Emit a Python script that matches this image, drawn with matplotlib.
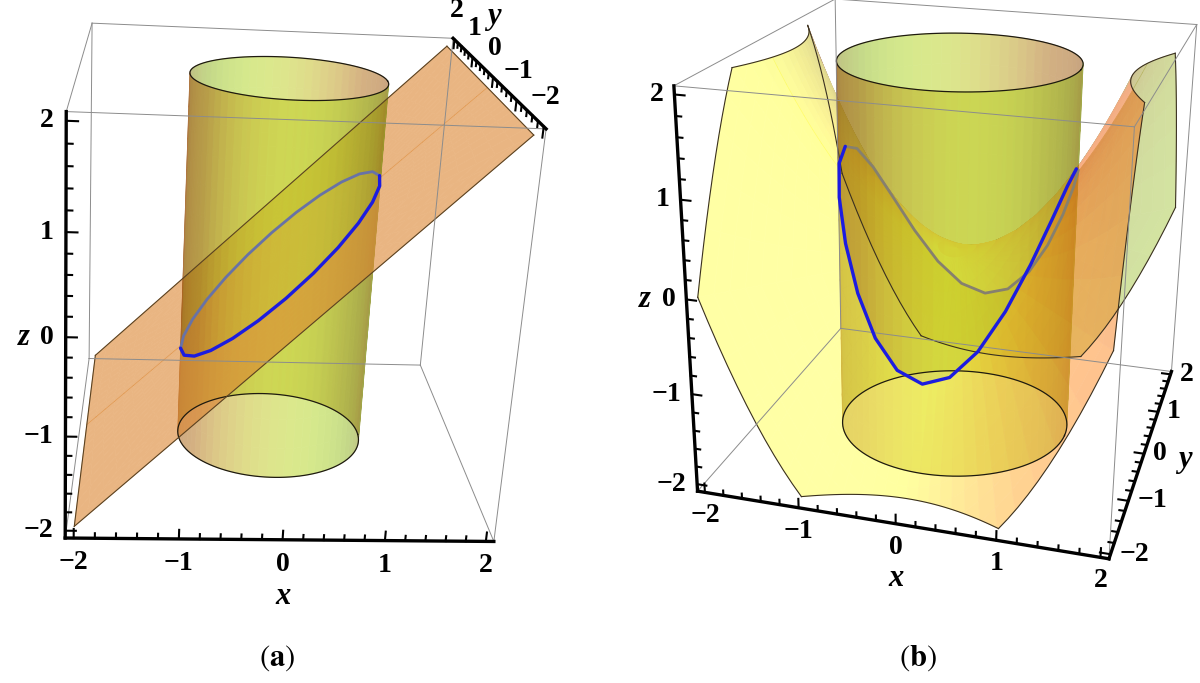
import numpy as np
import matplotlib
matplotlib.use("Agg")
import matplotlib.pyplot as plt
from mpl_toolkits.mplot3d import proj3d
from mpl_toolkits.mplot3d.art3d import Poly3DCollection

plt.rcParams['mathtext.fontset'] = 'stix'

W, H = 1200, 683

# ---- данные графика ----
AXIS_LIM = 2.0
PAD = 0.08                      # отступ рамки, как у Mathematica
BOX = AXIS_LIM + PAD
MAJOR = [-2, -1, 0, 1, 2]
MINOR = [-1.8, -1.6, -1.4, -1.2, -0.8, -0.6, -0.4, -0.2,
         0.2, 0.4, 0.6, 0.8, 1.2, 1.4, 1.6, 1.8]
TICK_TEXT = ['\u22122', '\u22121', '0', '1', '2']

CYL_R_A = 1.0                   # цилиндр на рисунке (a)
CYL_R_B = 1.22                  # цилиндр на рисунке (b)
CYL_Z = (-2.0, 2.0)
CLIP_Z = (-2.0, 2.0)
SADDLE_K = 2.0 / 3.0


def plane(x, y):
    return x


def plane_normal(x, y):
    return (-1.0, 0.0, 1.0)


def saddle(x, y):
    return SADDLE_K * (x ** 2 - y ** 2)


def saddle_normal(x, y):
    return (-2 * SADDLE_K * x, 2 * SADDLE_K * y, 1.0)


# углы рамки (знаки) и где они стоят на картинке, пиксели
CORNER_SIGNS = np.array([[-1, -1, -1], [1, -1, -1], [1, -1, 1], [-1, -1, 1],
                         [-1, 1, -1], [1, 1, -1], [1, 1, 1], [-1, 1, 1]])
TARGET_A = np.array([[62, 532], [500, 535], [545, 115], [62, 95],
                     [90, 370], [423, 373], [452, 50], [92, 35]], float)
TARGET_B = np.array([[691, 486], [1117, 548], [1148, 110], [672, 77],
                     [834, 337], [1171, 377], [1194, 37], [832, 14]], float)

# освещение в духе Mathematica
AMBIENT = np.array([0.4, 0.2, 0.0])
LIGHTS = [((0.0, 0.18, 0.5), (1.5, -0.5, 1.5)),
          ((0.18, 0.5, 0.18), (1.5, 1.5, 2.5)),
          ((0.5, 0.18, 0.0), (-0.5, 1.5, 1.5)),
          ((0.0, 0.18, 0.5), (-0.5, -0.5, 1.5))]

CYL_BASE, CYL_ALPHA = (1.06, 0.93, 0.13), 0.52
PLANE_BASE, PLANE_ALPHA = (1.0, 1.0, 1.0), 0.6
SADDLE_BASE, SADDLE_ALPHA = (1.35, 1.08, 0.3), 0.5

MAJOR_LEN = 0.10
MINOR_LEN = 0.055
TICK_FONT = dict(fontsize=20, fontweight='bold', family='Liberation Serif')
NAME_FONT = dict(fontsize=22, fontweight='bold', style='italic', family='Liberation Serif')

fig = plt.figure(figsize=(W / 100, H / 100), dpi=100)
pending_labels = []


class Fade:
    """agg-фильтр: один общий уровень прозрачности для целого слоя"""

    def __init__(self, alpha):
        # при выводе картинки слоя альфа применяется ещё раз, отсюда корень
        self.alpha = np.sqrt(alpha)

    def __call__(self, img, dpi):
        out = img.copy()
        out[..., 3] *= self.alpha
        return out, 0, 0


def view_axes(elev, azim, roll):
    e, a, r = np.radians([elev, azim, roll])
    w = np.array([np.cos(e) * np.cos(a), np.cos(e) * np.sin(a), np.sin(e)])
    u = np.array([-np.sin(a), np.cos(a), 0.0])
    v = np.cross(w, u)
    u, v = np.cos(r) * u - np.sin(r) * v, np.sin(r) * u + np.cos(r) * v
    return u, v, w


def shade(normals, view, base):
    u, v, w = view
    n = np.asarray(normals, float).reshape(-1, 3)
    ns = np.column_stack([n @ u, n @ v, n @ w])
    ns[ns[:, 2] < 0] *= -1          # двусторонний свет
    ns /= np.linalg.norm(ns, axis=1, keepdims=True)
    light = np.tile(AMBIENT, (len(ns), 1))
    for col, d in LIGHTS:
        d = np.array(d) / np.linalg.norm(d)
        light += np.clip(ns @ d, 0, None)[:, None] * np.array(col)
    return np.clip(light * np.array(base), 0, 1)


def clip_z(pts, lo, hi):
    for bound, sgn in ((lo, 1.0), (hi, -1.0)):
        out = []
        for i in range(len(pts)):
            p, q = pts[i], pts[(i + 1) % len(pts)]
            fp, fq = sgn * (p[2] - bound), sgn * (q[2] - bound)
            if fp >= 0:
                out.append(p)
            if fp * fq < 0:
                out.append(p + fp / (fp - fq) * (q - p))
        pts = out
        if len(pts) < 3:
            return []
    return pts


def cylinder_layers(R, eye, nt=72, nz=12):
    t = np.linspace(0, 2 * np.pi, nt + 1)
    z = np.linspace(CYL_Z[0], CYL_Z[1], nz + 1)
    front, back = ([], []), ([], [])
    for i in range(nt):
        c0, s0 = R * np.cos(t[i]), R * np.sin(t[i])
        c1, s1 = R * np.cos(t[i + 1]), R * np.sin(t[i + 1])
        tm = 0.5 * (t[i] + t[i + 1])
        nrm = np.array([np.cos(tm), np.sin(tm), 0.0])
        for j in range(nz):
            quad = [(c0, s0, z[j]), (c1, s1, z[j]), (c1, s1, z[j + 1]), (c0, s0, z[j + 1])]
            ctr = np.mean(quad, axis=0)
            dst = front if nrm @ (eye - ctr) > 0 else back
            dst[0].append(quad)
            dst[1].append(nrm)
    return front, back


def surface_layers(R, fz, fn, toward, clip, nt=96, nr=6, ns=10):
    """поверхность над квадратом: внутри цилиндра, снаружи спереди, снаружи сзади"""
    th = np.linspace(0, 2 * np.pi, nt + 1)
    rmax = AXIS_LIM / np.maximum(np.abs(np.cos(th)), np.abs(np.sin(th)))
    inside, front, back = ([], []), ([], []), ([], [])

    def add(dst, quad2d):
        pts = [np.array([x, y, fz(x, y)]) for x, y in quad2d]
        if clip:
            pts = clip_z(pts, *CLIP_Z)
            if not pts:
                return
        xm, ym = np.mean(quad2d, axis=0)
        dst[0].append([tuple(p) for p in pts])
        dst[1].append(fn(xm, ym))

    for i in range(nt):
        ca, sa = np.cos(th[i]), np.sin(th[i])
        cb, sb = np.cos(th[i + 1]), np.sin(th[i + 1])
        for j in range(nr):
            r0, r1 = R * j / nr, R * (j + 1) / nr
            add(inside, [(r0 * ca, r0 * sa), (r1 * ca, r1 * sa), (r1 * cb, r1 * sb), (r0 * cb, r0 * sb)])
        for j in range(ns):
            s0, s1 = j / ns, (j + 1) / ns
            a0, a1 = R + s0 * (rmax[i] - R), R + s1 * (rmax[i] - R)
            b0, b1 = R + s0 * (rmax[i + 1] - R), R + s1 * (rmax[i + 1] - R)
            quad = [(a0 * ca, a0 * sa), (a1 * ca, a1 * sa), (b1 * cb, b1 * sb), (b0 * cb, b0 * sb)]
            xm, ym = np.mean(quad, axis=0)
            add(front if xm * toward[0] + ym * toward[1] > 0 else back, quad)
    return inside, front, back


def add_layer(ax, layer, view, base, alpha, zo):
    polys, normals = layer
    if not polys:
        return
    cols = shade(normals, view, base)
    coll = Poly3DCollection(polys, facecolors=cols, edgecolors=cols,
                            linewidths=0.5, zorder=zo)
    coll.set_agg_filter(Fade(alpha))
    ax.add_collection3d(coll)


def setup_axes(rect, elev, azim, roll, focal):
    ax = fig.add_axes(rect, projection='3d', proj_type='persp',
                      focal_length=focal, computed_zorder=False)
    ax.set_xlim(-BOX, BOX)
    ax.set_ylim(-BOX, BOX)
    ax.set_zlim(-BOX, BOX)
    ax.set_box_aspect((1, 1, 1))
    ax.view_init(elev=elev, azim=azim, roll=roll)
    ax.set_axis_off()
    return ax


def eye_position(elev, azim, focal):
    # камера mpl: расстояние 10*focal в нормированных единицах рамки (~1.1 на ребро)
    w = view_axes(elev, azim, 0)[2]
    return w * 10 * focal * (2 * BOX) / 1.1


def draw_surfaces(ax, R, fz, fn, base, alpha, clip, elev, azim, roll, focal):
    view = view_axes(elev, azim, roll)
    eye = eye_position(elev, azim, focal)
    toward = (np.cos(np.radians(azim)), np.sin(np.radians(azim)))
    cyl_front, cyl_back = cylinder_layers(R, eye)
    s_in, s_front, s_back = surface_layers(R, fz, fn, toward, clip)
    add_layer(ax, s_back, view, base, alpha, 1.0)
    add_layer(ax, cyl_back, view, CYL_BASE, CYL_ALPHA, 1.1)
    add_layer(ax, s_in, view, base, alpha, 1.2)
    add_layer(ax, cyl_front, view, CYL_BASE, CYL_ALPHA, 1.3)
    add_layer(ax, s_front, view, base, alpha, 1.4)


def draw_box(ax):
    c = CORNER_SIGNS * BOX
    for i in range(8):
        for j in range(i + 1, 8):
            if np.sum(CORNER_SIGNS[i] != CORNER_SIGNS[j]) == 1:
                seg = np.array([c[i], c[j]])
                ax.plot(seg[:, 0], seg[:, 1], seg[:, 2], color='#8c8c8c', lw=0.7, zorder=3)


def draw_axis(ax, k, fixed, tdir, off, ha, va, name, name_pos, name_off, name_ha='center', name_va='center'):
    p0 = np.array(fixed, float)
    p1 = p0.copy()
    p0[k], p1[k] = -BOX, BOX
    seg = np.array([p0, p1])
    ax.plot(seg[:, 0], seg[:, 1], seg[:, 2], color='black', lw=2.4, zorder=5,
            solid_capstyle='projecting')
    ticks = [(m, MAJOR_LEN) for m in MAJOR] + [(m, MINOR_LEN) for m in MINOR]
    for val, ln in ticks:
        a = p0.copy()
        a[k] = val
        b = a + ln * np.array(tdir, float)
        ax.plot([a[0], b[0]], [a[1], b[1]], [a[2], b[2]], color='black', lw=1.5, zorder=5)
    for val, txt in zip(MAJOR, TICK_TEXT):
        a = p0.copy()
        a[k] = val
        pending_labels.append((ax, a, txt, off, dict(ha=ha, va=va, **TICK_FONT)))
    a = p0.copy()
    a[k] = name_pos
    pending_labels.append((ax, a, name, name_off, dict(ha=name_ha, va=name_va, **NAME_FONT)))


def draw_curve(ax, R, fz, back_color, n=13):
    tb = np.linspace(0, np.pi, n)
    tf = np.linspace(np.pi, 2 * np.pi, n)
    for t, col, lw, zo in ((tb, back_color, 2.0, 2), (tf, '#1c1ce0', 2.4, 4)):
        x, y = R * np.cos(t), R * np.sin(t)
        ax.plot(x, y, fz(x, y), color=col, lw=lw, zorder=zo, solid_capstyle='round')


def draw_rims(ax, R):
    t = np.linspace(0, 2 * np.pi, 121)
    for zr in CYL_Z:
        ax.plot(R * np.cos(t), R * np.sin(t), np.full_like(t, zr),
                color='#1e1a10', lw=0.9, zorder=3)


def place_box(ax, targets):
    fig.canvas.draw()
    c = CORNER_SIGNS * BOX
    xs, ys, _ = proj3d.proj_transform(c[:, 0], c[:, 1], c[:, 2], ax.get_proj())
    pix = ax.transData.transform(np.column_stack([xs, ys]))
    bb = ax.get_position()
    x0, y0, s = bb.x0 * W, bb.y0 * H, bb.width * W
    rel = (pix - [x0, y0]) / s
    tgt = np.column_stack([targets[:, 0], H - targets[:, 1]])
    rm, tm = rel.mean(0), tgt.mean(0)
    k = np.sum((rel - rm) * (tgt - tm)) / np.sum((rel - rm) ** 2)
    o = tm - k * rm
    ax.set_position([o[0] / W, o[1] / H, k / W, k / H])


def put_labels():
    fig.canvas.draw()
    for ax, p, txt, off, kw in pending_labels:
        xs, ys, _ = proj3d.proj_transform(np.array([p[0]]), np.array([p[1]]),
                                          np.array([p[2]]), ax.get_proj())
        px, py = ax.transData.transform((xs[0], ys[0]))
        fig.text((px + off[0]) / W, (py + off[1]) / H, txt, **kw)


# ---------------- (a) ----------------
EL_A, AZ_A, RO_A, FL_A = 20, -95.5, -3.4, 0.38
ax_a = setup_axes([0.0, 0.05, 0.5, 0.5 * W / H], EL_A, AZ_A, RO_A, FL_A)
draw_surfaces(ax_a, CYL_R_A, plane, plane_normal, PLANE_BASE, PLANE_ALPHA, False,
              EL_A, AZ_A, RO_A, FL_A)
draw_rims(ax_a, CYL_R_A)
g = np.array([-AXIS_LIM, AXIS_LIM])
for yv in g:
    ax_a.plot(g, [yv, yv], plane(g, yv), color='#5a4222', lw=0.8, zorder=3)
for xv in g:
    ax_a.plot([xv, xv], g, plane(xv, g), color='#5a4222', lw=0.8, zorder=3)
draw_curve(ax_a, CYL_R_A, plane, '#6872a6')
draw_box(ax_a)
draw_axis(ax_a, 2, (-BOX, -BOX, 0), (1, 0, 0), (-12, 0), 'right', 'center',
          'z', 0, (-36, 0), name_ha='right')
draw_axis(ax_a, 0, (0, -BOX, -BOX), (0, 0, 1), (0, -12), 'center', 'top',
          'x', 0, (0, -42), name_va='top')
draw_axis(ax_a, 1, (BOX, 0, BOX), (0, 0, -1), (2, 29), 'center', 'center',
          'y', 0.4, (9, 52))

# ---------------- (b) ----------------
EL_B, AZ_B, RO_B, FL_B = 21, -74.5, -0.8, 0.40
ax_b = setup_axes([0.5, 0.05, 0.5, 0.5 * W / H], EL_B, AZ_B, RO_B, FL_B)
draw_surfaces(ax_b, CYL_R_B, saddle, saddle_normal, SADDLE_BASE, SADDLE_ALPHA, True,
              EL_B, AZ_B, RO_B, FL_B)
draw_rims(ax_b, CYL_R_B)
# границы обрезанной седловой поверхности
hi, lo = CLIP_Z[1], CLIP_Z[0]
yc = np.sqrt(AXIS_LIM ** 2 - hi / SADDLE_K)
xc = np.sqrt(AXIS_LIM ** 2 + lo / SADDLE_K)
yy = np.linspace(-yc, yc, 41)
xx2 = np.linspace(-xc, xc, 41)
edge_y = np.linspace(yc, AXIS_LIM, 12)
edge_x = np.linspace(xc, AXIS_LIM, 12)
for sgn in (-1, 1):
    xx = sgn * np.sqrt(hi / SADDLE_K + yy ** 2)
    ax_b.plot(xx, yy, saddle(xx, yy), color='#3a3020', lw=0.8, zorder=3)
    yy2 = sgn * np.sqrt(xx2 ** 2 - lo / SADDLE_K)
    ax_b.plot(xx2, yy2, saddle(xx2, yy2), color='#3a3020', lw=0.8, zorder=3)
    for s2 in (-1, 1):
        ey, ex = s2 * edge_y, s2 * edge_x
        ax_b.plot(np.full_like(ey, sgn * AXIS_LIM), ey, saddle(sgn * AXIS_LIM, ey),
                  color='#3a3020', lw=0.8, zorder=3)
        ax_b.plot(ex, np.full_like(ex, sgn * AXIS_LIM), saddle(ex, sgn * AXIS_LIM),
                  color='#3a3020', lw=0.8, zorder=3)
draw_curve(ax_b, CYL_R_B, saddle, '#86806e', n=15)
draw_box(ax_b)
draw_axis(ax_b, 2, (-BOX, -BOX, 0), (1, 0, 0), (-11, 0), 'right', 'center',
          'z', 0, (-36, 0), name_ha='right')
draw_axis(ax_b, 0, (0, -BOX, -BOX), (0, 0, 1), (0, -11), 'center', 'top',
          'x', 0, (0, -40), name_va='top')
draw_axis(ax_b, 1, (BOX, 0, -BOX), (-1, 0, 0), (9, 0), 'left', 'center',
          'y', 0, (34, -6), name_ha='left')

place_box(ax_a, TARGET_A)
place_box(ax_b, TARGET_B)
put_labels()

fig.text(277 / W, 1 - 658 / H, r'($\mathbf{a}$)', ha='center', va='center',
         fontsize=22, family='STIXGeneral')
fig.text(918 / W, 1 - 658 / H, r'($\mathbf{b}$)', ha='center', va='center',
         fontsize=22, family='STIXGeneral')

fig.savefig('out.png', dpi=100)
